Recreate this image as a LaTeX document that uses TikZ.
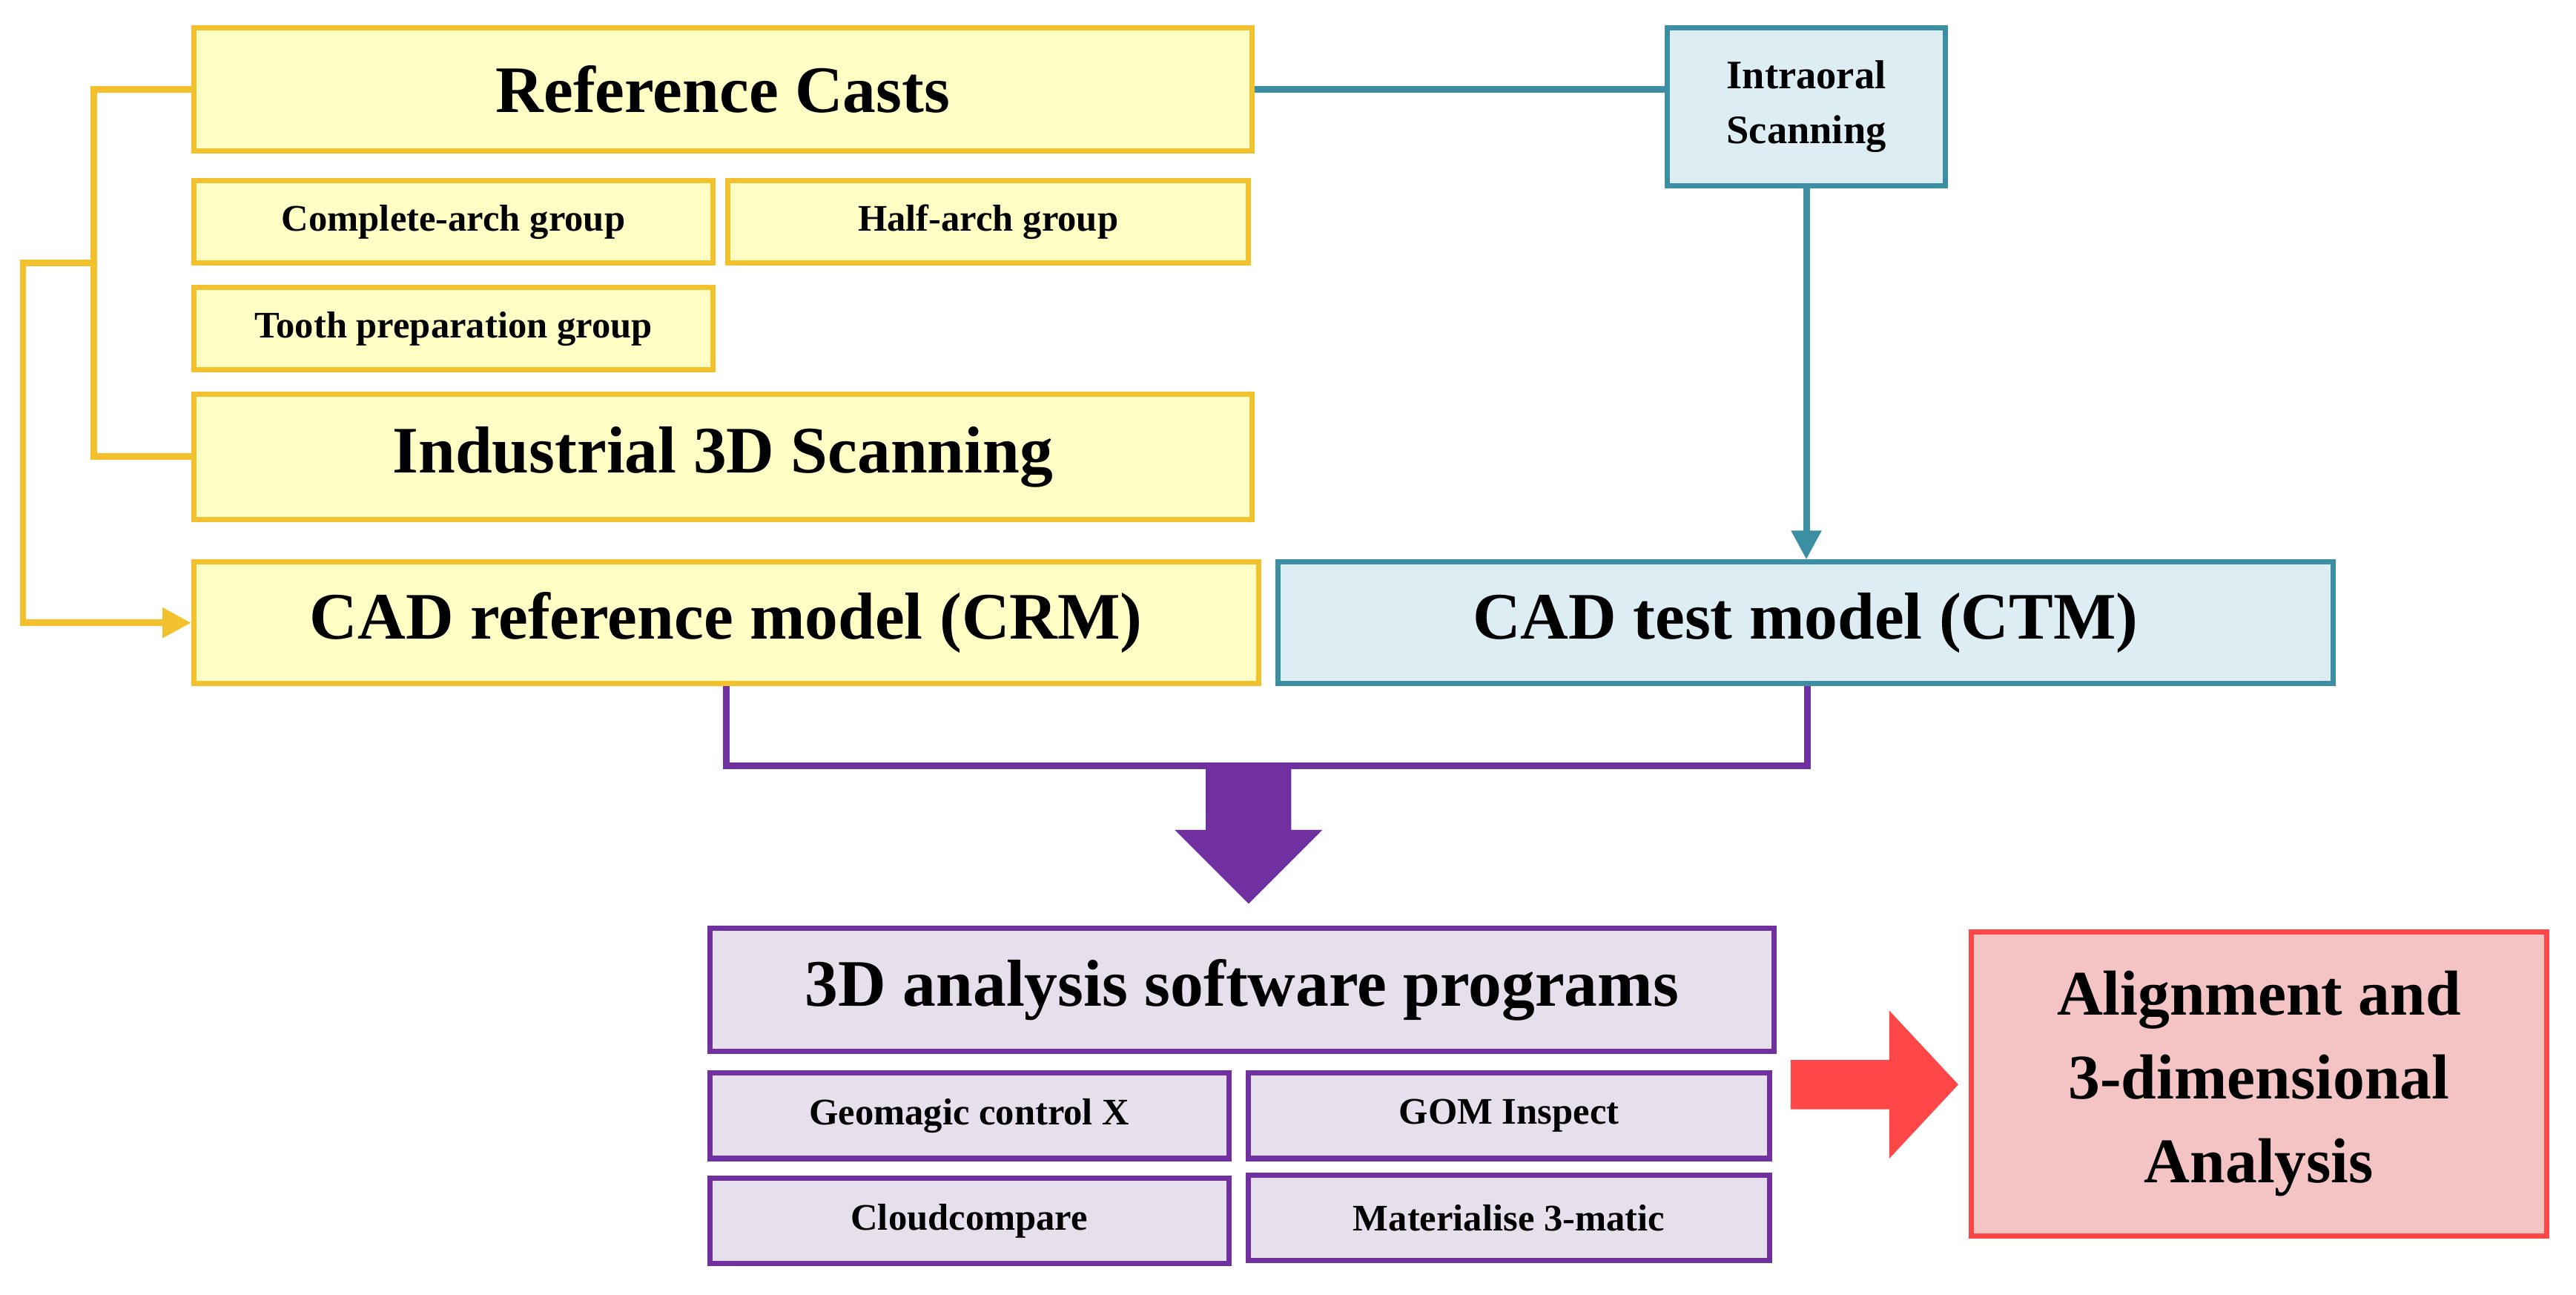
\documentclass[tikz,border=0pt]{standalone}
\usepackage{fontspec}
\setmainfont{Liberation Serif}
\usetikzlibrary{arrows.meta,shapes.arrows}
\definecolor{yfill}{HTML}{FFFFC5}
\definecolor{ydraw}{HTML}{F2C12E}
\definecolor{bfill}{HTML}{DCEEF4}
\definecolor{bdraw}{HTML}{3C8FA3}
\definecolor{pfill}{HTML}{E6E0EC}
\definecolor{pdraw}{HTML}{7030A0}
\definecolor{rfill}{HTML}{F4C4C4}
\definecolor{rdraw}{HTML}{FF4747}
\begin{document}
\begin{tikzpicture}[x=0.02cm,y=-0.02cm,
 box/.style={draw,line width=1.8pt,font=\bfseries},
 ybox/.style={box,fill=yfill,draw=ydraw},
 bbox/.style={box,fill=bfill,draw=bdraw},
 pbox/.style={box,fill=pfill,draw=pdraw},
 big/.style={font=\fontsize{23}{27}\selectfont\bfseries},
 small/.style={font=\fontsize{13}{16}\selectfont\bfseries},
 conn/.style={line width=2.3pt}]
\useasboundingbox (0,0) rectangle (1568,788);
\def\bx#1#2#3#4#5#6#7{\node[#2,minimum width={(#5-#3)*0.02cm},minimum height={(#6-#4)*0.02cm},inner sep=0pt,align=center] (#1) at ({(#3+#5)/2},{(#4+#6)/2}) {#7};}
\bx{rc}{ybox,big}{118}{17}{762}{92}{Reference Casts}
\bx{ca}{ybox,small}{118}{110}{434}{160}{Complete-arch group}
\bx{ha}{ybox,small}{443}{110}{760}{160}{Half-arch group}
\bx{tp}{ybox,small}{118}{175}{434}{225}{Tooth preparation group}
\bx{is}{ybox,big}{118}{240}{762}{316}{Industrial 3D Scanning}
\bx{crm}{ybox,big}{118}{342}{766}{416}{CAD reference model (CRM)}
\bx{io}{bbox,font=\fontsize{14}{19}\selectfont\bfseries}{1015}{17}{1184}{113}{Intraoral\\Scanning}
\bx{ctm}{bbox,big}{778}{342}{1420}{416}{CAD test model (CTM)}
\bx{sw}{pbox,big}{432}{565}{1080}{640}{3D analysis software programs}
\bx{g1}{pbox,small}{432}{653}{748}{705}{Geomagic control X}
\bx{g2}{pbox,small}{760}{653}{1077}{705}{GOM Inspect}
\bx{g3}{pbox,small}{432}{717}{748}{769}{Cloudcompare}
\bx{g4}{pbox,small}{760}{715}{1077}{767}{Materialise 3-matic}
\bx{al}{box,fill=rfill,draw=rdraw,font=\fontsize{22}{29}\selectfont\bfseries}{1200}{567}{1550}{752}{Alignment and\\3-dimensional\\Analysis}
\coordinate (y1) at (57,54.5);
\coordinate (y2) at (57,160);
\coordinate (y3) at (57,278);
\draw[conn,ydraw] (rc.west) -- (y1) -- (y3) -- (is.west);
\draw[conn,ydraw,-{Triangle[length=10pt,width=10pt]}] (y2) -- (14,160) -- (14,379) -- (crm.west);
\draw[conn,bdraw] (rc.east) -- (rc.east -| io.west);
\draw[conn,bdraw,-{Triangle[length=10pt,width=10pt]}] (io.south) -- (ctm.north -| io.south);
\draw[conn,pdraw] (crm.south -| 442,0) -- (442,466) -- (1100,466) -- (ctm.south -| 1100,0);
\fill[pdraw] (734,468) -- (786,468) -- (786,505) -- (805,505) -- (760,550) -- (715,505) -- (734,505) -- cycle;
\fill[rdraw] (1090,645) -- (1150,645) -- (1150,615) -- (1192,660) -- (1150,705) -- (1150,675) -- (1090,675) -- cycle;
\end{tikzpicture}
\end{document}
